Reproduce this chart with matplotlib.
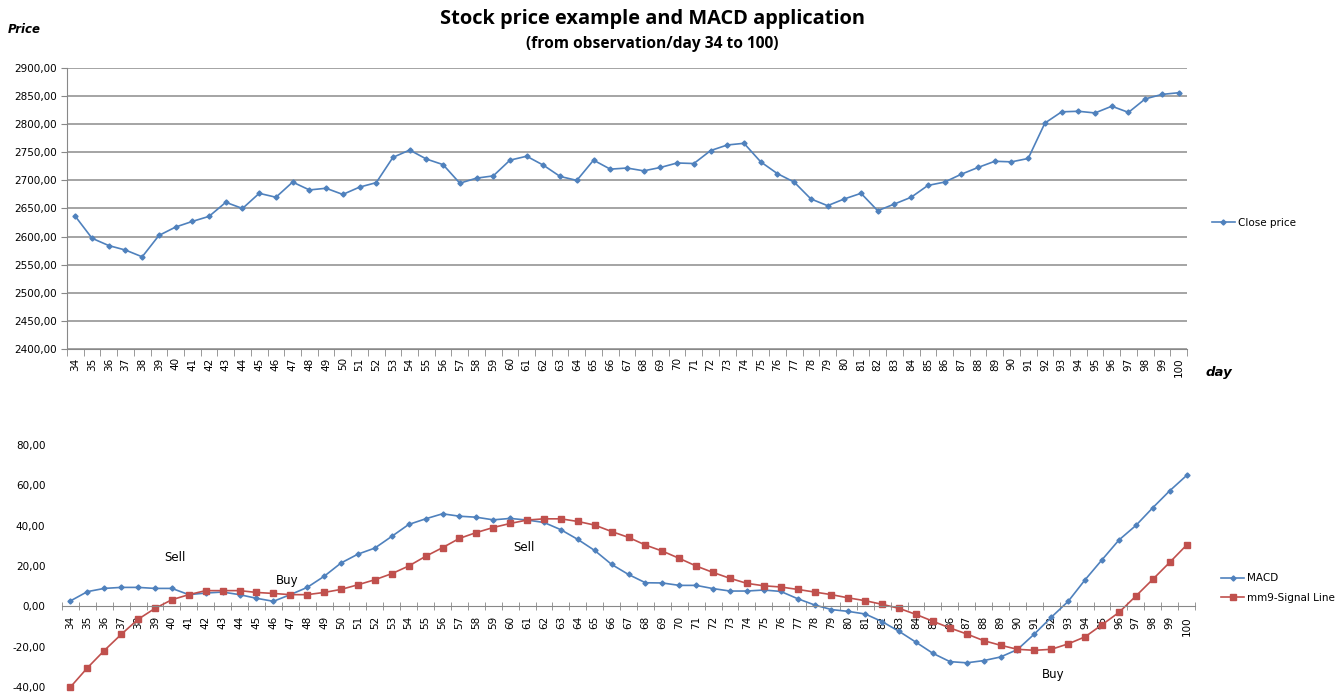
import numpy as np
import matplotlib
matplotlib.use("Agg")
import matplotlib.pyplot as plt
from matplotlib.ticker import FuncFormatter, FixedLocator

# data
days = list(range(34, 101))
close_price = [2636, 2597, 2584, 2576, 2564, 2602, 2617, 2627, 2636, 2661,
               2650, 2677, 2670, 2697, 2683, 2686, 2675, 2688, 2696, 2741,
               2754, 2738, 2728, 2695, 2704, 2708, 2736, 2743, 2727, 2707,
               2700, 2736, 2720, 2722, 2717, 2723, 2731, 2730, 2753, 2763,
               2766, 2733, 2712, 2697, 2667, 2655, 2667, 2677, 2646, 2658,
               2670, 2691, 2697, 2711, 2723, 2734, 2733, 2739, 2802, 2822,
               2823, 2820, 2832, 2821, 2845, 2853, 2856]
macd = [2.7, 7.3, 8.9, 9.4, 9.4, 8.9, 8.9, 5.8, 6.6, 7.1,
        5.8, 4.0, 2.5, 5.8, 9.4, 14.9, 21.5, 25.9, 28.9, 34.7,
        40.6, 43.4, 45.9, 44.7, 44.2, 42.9, 43.6, 42.8, 41.6, 38.0,
        33.2, 27.7, 20.8, 15.8, 11.7, 11.6, 10.4, 10.4, 8.8, 7.6,
        7.6, 8.1, 7.4, 3.8, 0.7, -1.6, -2.5, -3.8, -7.6, -12.4,
        -17.8, -23.3, -27.4, -28.0, -26.9, -25.1, -21.4, -13.7, -5.4, 2.5,
        13.2, 23.1, 32.9, 40.1, 48.9, 57.3, 64.9]
signal = [-40.0, -30.5, -21.9, -13.9, -6.4, -1.0, 3.3, 5.8, 7.8, 7.8,
          7.8, 6.9, 6.4, 5.8, 5.8, 6.9, 8.4, 10.7, 13.2, 16.2,
          20.0, 24.8, 29.1, 33.7, 36.6, 39.1, 41.1, 42.8, 43.4, 43.4,
          42.1, 40.3, 37.1, 34.2, 30.4, 27.4, 23.8, 20.0, 16.8, 13.9,
          11.4, 10.2, 9.6, 8.4, 7.1, 5.8, 4.2, 2.8, 1.0, -1.0,
          -4.0, -7.4, -10.7, -13.7, -17.0, -19.3, -21.3, -21.8, -21.3, -18.6,
          -15.1, -9.1, -3.0, 5.1, 13.4, 21.8, 30.4]
# trading signal labels: text, day, MACD level
signals = [("Sell", 40.2, 24), ("Buy", 46.8, 12.7), ("Sell", 60.8, 29), ("Buy", 92.1, -34)]

BLUE = "#4F81BD"
RED = "#C0504D"
plt.rcParams['font.family'] = ['DejaVu Sans']

def comma(v, pos):
    return f"{v:.2f}".replace('.', ',')

def setup_xaxis(ax):
    n = len(days)
    ax.set_xlim(-0.5, n - 0.5)
    ax.xaxis.set_major_locator(FixedLocator(range(n)))
    ax.set_xticklabels([str(d) for d in days], rotation=90, fontsize=7.5)
    ax.xaxis.set_minor_locator(FixedLocator(np.arange(-0.5, n, 1)))
    ax.tick_params(axis='x', which='major', length=0, pad=6)

fig = plt.figure(figsize=(13.42, 6.96), dpi=100)

# price chart
ax1 = fig.add_axes([0.0499, 0.4986, 0.8346, 0.4037])
x = np.arange(len(days))
ax1.plot(x, close_price, color=BLUE, lw=1.2, marker='D', ms=2.6, label='Close price')
ax1.set_ylim(2400, 2900)
ax1.set_yticks(np.arange(2400, 2901, 50))
ax1.yaxis.set_major_formatter(FuncFormatter(comma))
ax1.tick_params(axis='y', labelsize=7.5, length=4, color='#888888')
ax1.grid(axis='y', color='#8c8c8c', lw=1.1)
ax1.set_axisbelow(True)
setup_xaxis(ax1)
ax1.tick_params(axis='x', which='minor', length=5, color='#888888', direction='out')
for s in ['top', 'right']:
    ax1.spines[s].set_visible(False)
for s in ['left', 'bottom']:
    ax1.spines[s].set_color('#888888')
ax1.legend(loc='center left', bbox_to_anchor=(0.896, 0.68), bbox_transform=fig.transFigure,
           frameon=False, fontsize=7.5, handlelength=2.2, handletextpad=0.3)

# MACD chart
ax2 = fig.add_axes([0.0462, 0.0129, 0.8443, 0.3477])
ax2.spines['bottom'].set_position(('data', 0))
ax2.plot(x, macd, color=BLUE, lw=1.2, marker='D', ms=2.6, label='MACD', clip_on=False)
ax2.plot(x, signal, color=RED, lw=1.2, marker='s', ms=4, label='mm9-Signal Line', clip_on=False)
ax2.set_ylim(-40, 80)
ax2.set_yticks(np.arange(-40, 81, 20))
ax2.yaxis.set_major_formatter(FuncFormatter(comma))
ax2.tick_params(axis='y', labelsize=7.5, length=0, pad=12)
setup_xaxis(ax2)
ax2.spines['bottom'].set_color('#888888')
ax2.tick_params(axis='x', which='minor', length=6, color='#888888', direction='inout')
ax2.tick_params(axis='x', which='major', pad=7)
for s in ['top', 'right', 'left']:
    ax2.spines[s].set_visible(False)
for label, day, yv in signals:
    ax2.text(day - days[0], yv, label, fontsize=8.5, ha='center', va='center')
ax2.legend(loc='center left', bbox_to_anchor=(0.903, 0.155), bbox_transform=fig.transFigure,
           frameon=False, fontsize=7.5, handlelength=2.2, handletextpad=0.3, labelspacing=0.9)

fig.text(0.486, 0.973, "Stock price example and MACD application", fontsize=14.4,
         fontweight='bold', family='Open Sans', ha='center', va='center')
fig.text(0.486, 0.937, "(from observation/day 34 to 100)", fontsize=11.2,
         fontweight='bold', family='Open Sans', ha='center', va='center')
fig.text(0.006, 0.958, "Price", fontsize=8.5, fontweight='bold', style='italic', va='center')
fig.text(0.898, 0.465, "day", fontsize=9.5, fontweight='bold', style='italic', va='center')

fig.savefig("out.png", dpi=100, facecolor='white')
